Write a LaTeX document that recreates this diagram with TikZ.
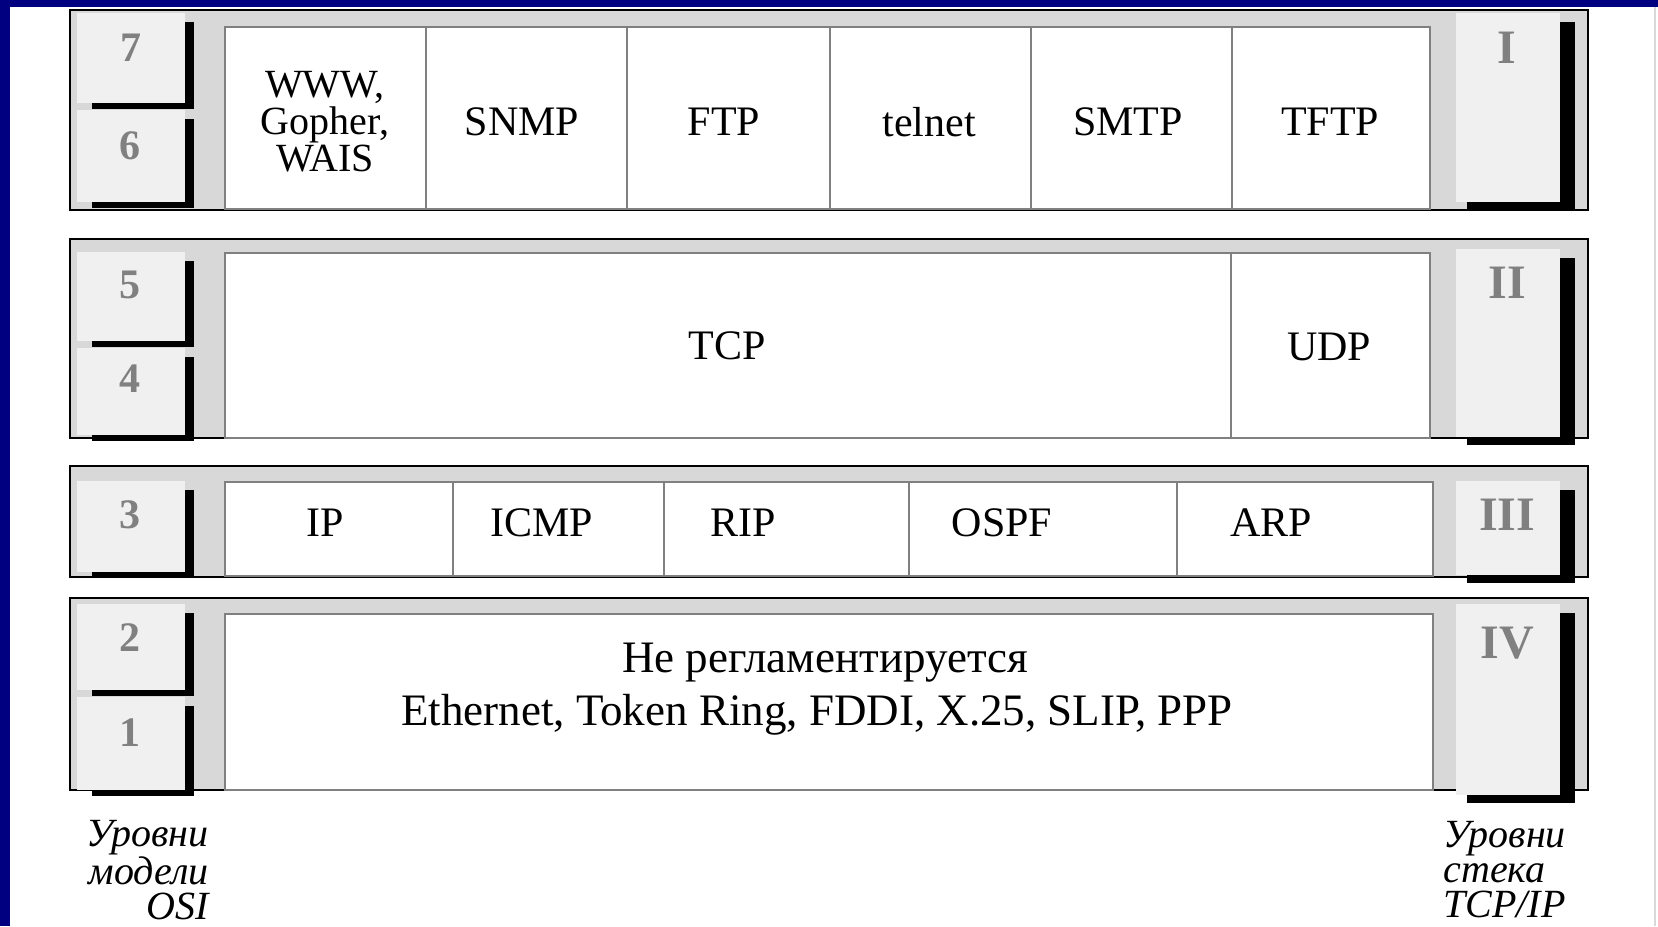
\documentclass[tikz,border=0pt]{standalone}
\usepackage{fontspec}
\setmainfont{Liberation Serif}
\definecolor{navy}{RGB}{0,0,128}
\definecolor{framegray}{RGB}{216,216,216}
\definecolor{panelgray}{RGB}{240,240,240}
\definecolor{rulegray}{RGB}{128,128,128}
\definecolor{digitgray}{RGB}{128,128,128}
\tikzset{
  lbl/.style={font=\fontsize{21}{18}\selectfont, align=center, inner sep=0pt},
  stacked/.style={font=\fontsize{20}{18.5}\selectfont, align=center, inner sep=0pt},
  wide/.style={font=\fontsize{22.5}{24}\selectfont, align=center, inner sep=0pt},
  num/.style={font=\fontsize{21}{21}\selectfont\bfseries, text=digitgray, inner sep=0pt},
  roman/.style={font=\fontsize{24}{24}\selectfont\bfseries, text=digitgray, inner sep=0pt},
  note/.style={font=\fontsize{20}{17.5}\selectfont\itshape, inner sep=0pt},
  rowframe/.style={fill=framegray, draw=black, line width=1pt},
  cellbox/.style={fill=white, draw=rulegray, line width=1.3pt},
  celldiv/.style={draw=rulegray, line width=1.3pt},
  panelbox/.style={fill=panelgray},
  shadow/.style={fill=black},
}
% left OSI cell: #1 top, #2 bottom
\newcommand{\osicell}[2]{%
  \fill[panelbox] (77,#1) rectangle (185,#2);
  \fill[shadow] (185,#1+9) rectangle (194,#2+6);
  \fill[shadow] (92,#2) rectangle (194,#2+6);
}
% right TCP/IP cell: #1 top, #2 bottom
\newcommand{\stackcell}[2]{%
  \fill[panelbox] (1456,#1) rectangle (1560,#2);
  \fill[shadow] (1560,#1+9) rectangle (1575,#2+8);
  \fill[shadow] (1467,#2) rectangle (1575,#2+8);
}
\begin{document}
\begin{tikzpicture}[x=0.5pt,y=-0.5pt]
\useasboundingbox (0,0) rectangle (1658,926);
\fill[white] (0,0) rectangle (1658,926);
\fill[navy] (0,0) rectangle (1658,7);
\fill[navy] (0,0) rectangle (10,926);
\draw[line width=1pt, color=black!15] (1655,7) -- (1655,926);

% ---- row frames
\draw[rowframe] (70,10) rectangle (1588,210);
\draw[rowframe] (70,239) rectangle (1588,438);
\draw[rowframe] (70,466) rectangle (1588,577);
\draw[rowframe] (70,598) rectangle (1588,790);

% ---- OSI level cells (left)
\osicell{13}{103}
\osicell{110}{202}
\osicell{252}{341}
\osicell{348}{435}
\osicell{481}{572}
\osicell{604}{690}
\osicell{697}{790}
\node[num] (o7) at (131,48) {7};
\node[num] (o6) at (130,146) {6};
\node[num] (o5) at (130,285) {5};
\node[num] (o4) at (130,379) {4};
\node[num] (o3) at (130,515) {3};
\node[num] (o2) at (130,638) {2};
\node[num] (o1) at (130,733) {1};

% ---- TCP/IP level cells (right)
\stackcell{13}{202}
\stackcell{249}{437}
\stackcell{481}{575}
\stackcell{604}{795}
\node[roman] (s1) at (1507,48) {I};
\node[roman] (s2) at (1507,283) {II};
\node[roman] (s3) at (1507,515) {III};
\node[roman] (s4) at (1507,643) {IV};

% ---- application layer
\draw[cellbox] (225,27) rectangle (1430,209);
\foreach \x in {426,627,830,1031,1232} \draw[celldiv] (\x,27) -- (\x,209);
\node[stacked] (www) at (325,122) {WWW,\\Gopher,\\WAIS};
\node[lbl] (snmp) at (522,122) {SNMP};
\node[lbl] (ftp) at (724,122) {FTP};
\node[lbl] (telnet) at (929,122) {telnet};
\node[lbl] (smtp) at (1128,122) {SMTP};
\node[lbl] (tftp) at (1330,122) {TFTP};

% ---- transport layer
\draw[cellbox] (225,253) rectangle (1430,438);
\draw[celldiv] (1231,253) -- (1231,438);
\node[lbl] (tcp) at (727,346) {TCP};
\node[lbl] (udp) at (1329,347) {UDP};

% ---- internet layer
\draw[cellbox] (225,482) rectangle (1433,576);
\foreach \x in {453,664,909,1177} \draw[celldiv] (\x,482) -- (\x,576);
\node[lbl] (ip) at (325,523) {IP};
\node[lbl] (icmp) at (542,523) {ICMP};
\node[lbl] (rip) at (743,523) {RIP};
\node[lbl] (ospf) at (1002,523) {OSPF};
\node[lbl] (arp) at (1271,523) {ARP};

% ---- network access layer
\draw[cellbox] (225,614) rectangle (1433,790);
\node[wide] (free) at (825,663) {Не регламентируется};
\node[wide] (links) at (817,715) {Ethernet, Token Ring, FDDI, X.25, SLIP, PPP};

% ---- captions
\node[note, align=right, anchor=east] (osi) at (209,870) {Уровни\\модели\\OSI};
\node[note, align=left, anchor=west] (stack) at (1443,870) {Уровни\\стека\\TCP/IP};
\end{tikzpicture}
\end{document}
